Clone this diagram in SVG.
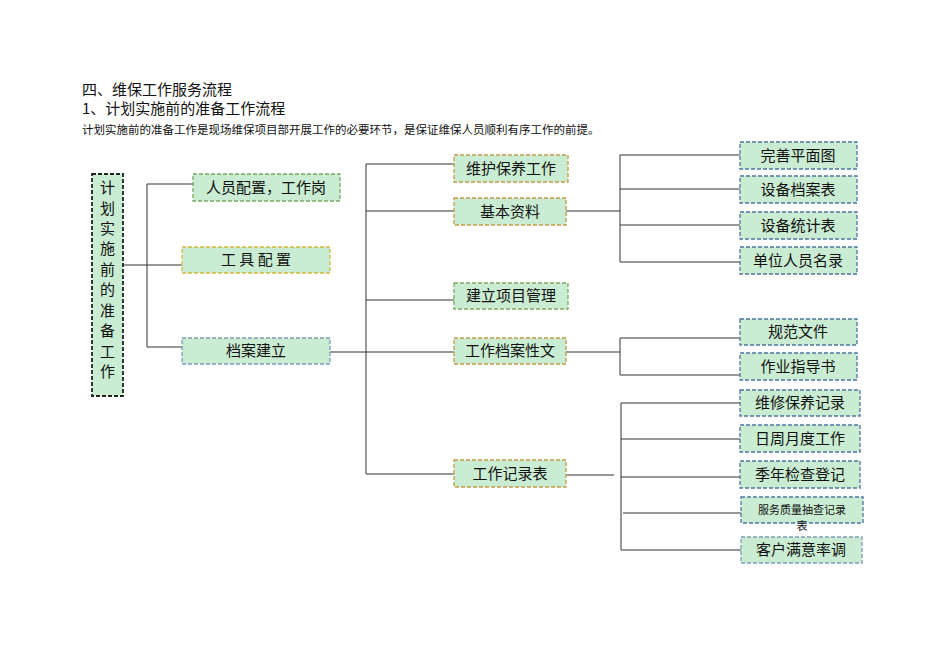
<svg xmlns="http://www.w3.org/2000/svg" width="950" height="672" viewBox="0 0 950 672">
<style>
text{font-family:"Noto Sans CJK SC","Liberation Serif",serif;fill:#111}
.b{fill:#c9ecd2;stroke-width:1.3;stroke-dasharray:4 2}
.g{stroke:#78a866}.o{stroke:#c49a4a}.y{stroke:#d4b840}.u{stroke:#4f74a0}.s{stroke:#7e9cb8}.k{stroke:#222;stroke-width:1.8}
.t{font-size:15px;text-anchor:middle}
#c path{fill:none;stroke:#333;stroke-width:1}
</style>
<rect width="950" height="672" fill="#fff"/>
<text x="82" y="95" font-size="15">四、维保工作服务流程</text>
<text x="82" y="114" font-size="15">1、计划实施前的准备工作流程</text>
<text x="82" y="134" font-size="11.5">计划实施前的准备工作是现场维保项目部开展工作的必要环节，是保证维保人员顺利有序工作的前提。</text>
<g id="c">
<path d="M123 265H147M147 184V347M147 184H193M147 265H182M147 347H182"/>
<path d="M330 352H366M366 164V474M366 164H454M366 211H454M366 300H454M366 352H454M366 474H454"/>
<path d="M566 211H620M620 155V262M620 155H740M620 189H740M620 225H740M620 262H740"/>
<path d="M566 352H620M620 338V375M620 338H740M620 375H740"/>
<path d="M566 475H614M621 403V550M621 403H740M621 439H740M621 477H740M623 513H741M621 550H741"/>
</g>
<g id="n0"><rect class="b k" x="92" y="174" width="31" height="222"/>
<text class="t" font-size="17" x="107.5"><tspan x="107.5" y="193">计</tspan><tspan x="107.5" y="214">划</tspan><tspan x="107.5" y="234">实</tspan><tspan x="107.5" y="254">施</tspan><tspan x="107.5" y="275">前</tspan><tspan x="107.5" y="295">的</tspan><tspan x="107.5" y="316">准</tspan><tspan x="107.5" y="336">备</tspan><tspan x="107.5" y="357">工</tspan><tspan x="107.5" y="377">作</tspan></text></g>
<g id="n1"><rect class="b g" x="193" y="174" width="147" height="27"/><text class="t" x="266" y="193">人员配置，工作岗</text></g>
<g id="n2"><rect class="b y" x="182" y="247" width="148" height="26"/><text class="t" x="256" y="265">工 具 配 置</text></g>
<g id="n3"><rect class="b s" x="182" y="338" width="148" height="26"/><text class="t" x="256" y="356">档案建立</text></g>
<g id="n4"><rect class="b o" x="454" y="155" width="114" height="27"/><text class="t" x="511" y="174">维护保养工作</text></g>
<g id="n5"><rect class="b o" x="454" y="198" width="112" height="27"/><text class="t" x="510" y="217">基本资料</text></g>
<g id="n6"><rect class="b g" x="454" y="283" width="114" height="26"/><text class="t" x="511" y="301">建立项目管理</text></g>
<g id="n7"><rect class="b o" x="454" y="338" width="112" height="26"/><text class="t" x="510" y="356">工作档案性文</text></g>
<g id="n8"><rect class="b o" x="454" y="460" width="112" height="27"/><text class="t" x="510" y="479">工作记录表</text></g>
<g id="n9"><rect class="b u" x="740" y="142" width="117" height="27"/><text class="t" x="798" y="161">完善平面图</text></g>
<g id="n10"><rect class="b u" x="740" y="176" width="117" height="27"/><text class="t" x="798" y="195">设备档案表</text></g>
<g id="n11"><rect class="b u" x="740" y="212" width="117" height="27"/><text class="t" x="798" y="231">设备统计表</text></g>
<g id="n12"><rect class="b u" x="740" y="247" width="117" height="27"/><text class="t" x="798" y="266">单位人员名录</text></g>
<g id="n13"><rect class="b u" x="740" y="319" width="117" height="26"/><text class="t" x="798" y="337">规范文件</text></g>
<g id="n14"><rect class="b u" x="740" y="353" width="117" height="27"/><text class="t" x="798" y="372">作业指导书</text></g>
<g id="n15"><rect class="b u" x="740" y="390" width="120" height="26"/><text class="t" x="800" y="408">维修保养记录</text></g>
<g id="n16"><rect class="b u" x="740" y="425" width="120" height="27"/><text class="t" x="800" y="444">日周月度工作</text></g>
<g id="n17"><rect class="b u" x="740" y="461" width="120" height="27"/><text class="t" x="800" y="480">季年检查登记</text></g>
<g id="n18"><rect class="b u" x="741" y="497" width="122" height="26"/><text font-size="11" text-anchor="middle" x="802" y="514">服务质量抽查记录</text><text font-size="11" text-anchor="middle" x="802" y="530">表</text></g>
<g id="n19"><rect class="b s" x="741" y="537" width="121" height="26"/><text class="t" x="801" y="555">客户满意率调</text></g>
</svg>
